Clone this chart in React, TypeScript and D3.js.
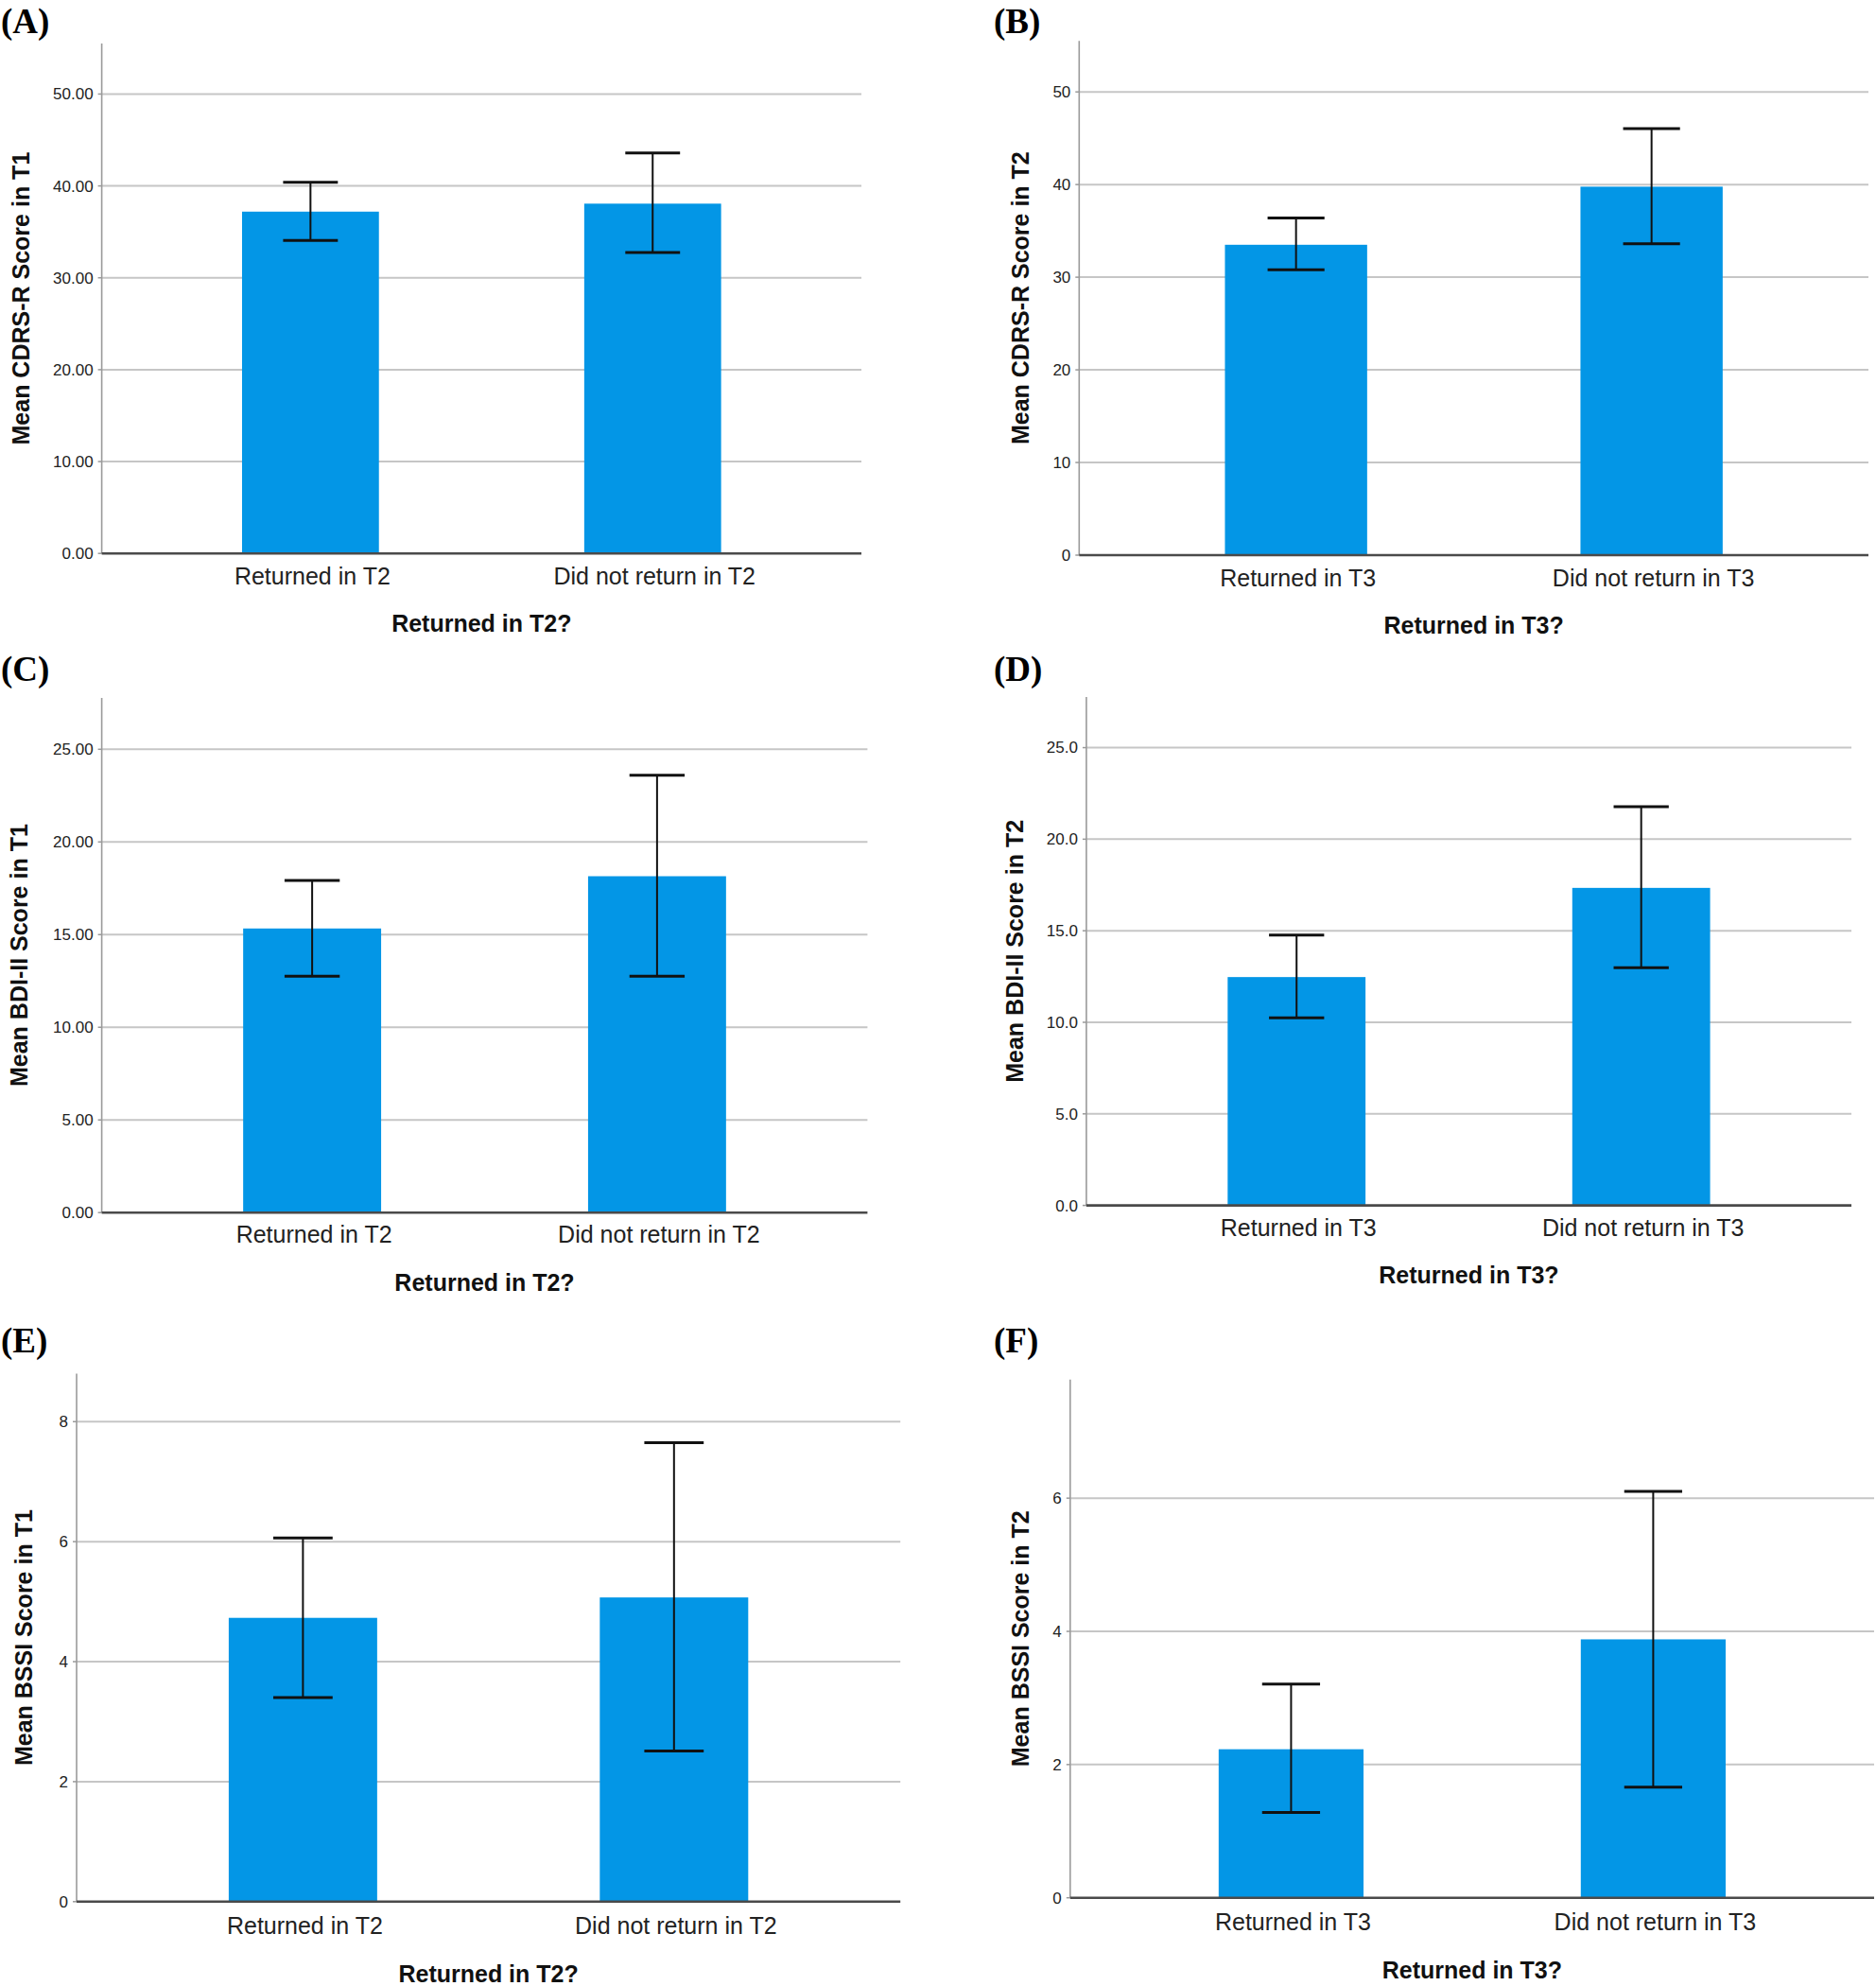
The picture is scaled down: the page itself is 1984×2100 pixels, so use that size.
import React from "react";
import * as d3 from "d3";

// ---------- data ----------
const categoriesT2 = ["Returned in T2", "Did not return in T2"];
const categoriesT3 = ["Returned in T3", "Did not return in T3"];

const cdrsT1Mean = [37.2, 38.07];
const cdrsT1Low = [34.07, 32.74];
const cdrsT1High = [40.4, 43.58];

const cdrsT2Mean = [33.5, 39.77];
const cdrsT2Low = [30.8, 33.6];
const cdrsT2High = [36.4, 46.05];

const bdiT1Mean = [15.33, 18.15];
const bdiT1Low = [12.76, 12.76];
const bdiT1High = [17.92, 23.6];

const bdiT2Mean = [12.47, 17.34];
const bdiT2Low = [10.24, 12.98];
const bdiT2High = [14.76, 21.77];

const bssiT1Mean = [4.73, 5.07];
const bssiT1Low = [3.4, 2.51];
const bssiT1High = [6.06, 7.65];

const bssiT2Mean = [2.23, 3.88];
const bssiT2Low = [1.28, 1.66];
const bssiT2High = [3.21, 6.1];

const ticksCdrs = [0, 10, 20, 30, 40, 50];
const ticksBdi = [0, 5, 10, 15, 20, 25];
const ticksBssiT1 = [0, 2, 4, 6, 8];
const ticksBssiT2 = [0, 2, 4, 6];

const panels = [
  {
    label: "(A)", cats: categoriesT2, mean: cdrsT1Mean, low: cdrsT1Low, high: cdrsT1High,
    ticks: ticksCdrs, fmt: ".2f", max: 55.5, yTitle: "Mean CDRS-R Score in T1", xTitle: "Returned in T2?",
    left: 107.6, right: 911, top: 46, bottom: 585.2, yTitleX: 22, lx: 1, ly: 35, labOff: 33, titleOff: 83,
  },
  {
    label: "(B)", cats: categoriesT3, mean: cdrsT2Mean, low: cdrsT2Low, high: cdrsT2High,
    ticks: ticksCdrs, fmt: "d", max: 55.5, yTitle: "Mean CDRS-R Score in T2", xTitle: "Returned in T3?",
    left: 1141.3, right: 1976, top: 43.3, bottom: 587, yTitleX: 1079.3, lx: 1051, ly: 35, labOff: 33, titleOff: 83,
  },
  {
    label: "(C)", cats: categoriesT2, mean: bdiT1Mean, low: bdiT1Low, high: bdiT1High,
    ticks: ticksBdi, fmt: ".2f", max: 27.77, yTitle: "Mean BDI-II Score in T1", xTitle: "Returned in T2?",
    left: 107.6, right: 917.4, top: 738, bottom: 1282.2, yTitleX: 20.2, lx: 1, ly: 720, labOff: 32, titleOff: 83,
  },
  {
    label: "(D)", cats: categoriesT3, mean: bdiT2Mean, low: bdiT2Low, high: bdiT2High,
    ticks: ticksBdi, fmt: ".1f", max: 27.76, yTitle: "Mean BDI-II Score in T2", xTitle: "Returned in T3?",
    left: 1148.9, right: 1958, top: 737.1, bottom: 1274.6, yTitleX: 1073, lx: 1051, ly: 720, labOff: 32, titleOff: 82,
  },
  {
    label: "(E)", cats: categoriesT2, mean: bssiT1Mean, low: bssiT1Low, high: bssiT1High,
    ticks: ticksBssiT1, fmt: "d", max: 8.8, yTitle: "Mean BSSI Score in T1", xTitle: "Returned in T2?",
    left: 81, right: 952.2, top: 1452.5, bottom: 2010.8, yTitleX: 25.3, lx: 1, ly: 1430, labOff: 34, titleOff: 85,
  },
  {
    label: "(F)", cats: categoriesT3, mean: bssiT2Mean, low: bssiT2Low, high: bssiT2High,
    ticks: ticksBssiT2, fmt: "d", max: 7.78, yTitle: "Mean BSSI Score in T2", xTitle: "Returned in T3?",
    left: 1131.8, right: 1982, top: 1458.8, bottom: 2006.7, yTitleX: 1079.3, lx: 1051, ly: 1430, labOff: 34, titleOff: 85,
  },
];

const BAR = "#0396E6";
const GRID = "#c6c6c6";
const SANS = "'Liberation Sans', Arial, sans-serif";

function Panel({ p }: { p: any }) {
  const x = d3.scaleBand<string>().domain(p.cats).range([p.left, p.right]).paddingInner(0.6).paddingOuter(0.41);
  const y = d3.scaleLinear().domain([0, p.max]).range([p.bottom, p.top]);
  const f = d3.format(p.fmt);
  const bw = x.bandwidth();
  const cap = bw * 0.2;
  const cx = (p.left + p.right) / 2;
  const cy = (p.top + p.bottom) / 2;
  return (
    <g>
      <text x={p.lx} y={p.ly} fontFamily="'Liberation Serif', 'Times New Roman', serif" fontWeight="bold" fontSize={37} fill="#000">
        {p.label}
      </text>
      {p.ticks.filter((t: number) => t > 0).map((t: number) => (
        <line key={"g" + t} x1={p.left} x2={p.right} y1={y(t)} y2={y(t)} stroke={GRID} strokeWidth={2} />
      ))}
      {p.ticks.map((t: number) => (
        <g key={"t" + t}>
          <line x1={p.left - 4} x2={p.left} y1={y(t)} y2={y(t)} stroke="#999" strokeWidth={1.5} />
          <text x={p.left - 9} y={y(t)} dy="0.35em" textAnchor="end" fontFamily={SANS} fontSize={17} fill="#222">
            {f(t)}
          </text>
        </g>
      ))}
      {p.cats.map((c: string, i: number) => (
        <rect key={"b" + c} x={x(c)} y={y(p.mean[i])} width={bw} height={p.bottom - y(p.mean[i])} fill={BAR} />
      ))}
      <line x1={p.left} x2={p.left} y1={p.top} y2={p.bottom} stroke="#9a9a9a" strokeWidth={1.6} />
      <line x1={p.left} x2={p.right} y1={p.bottom} y2={p.bottom} stroke="#4a4a4a" strokeWidth={2.6} />
      {p.cats.map((c: string, i: number) => {
        const mx = (x(c) as number) + bw / 2;
        return (
          <g key={"e" + c}>
            <line x1={mx} x2={mx} y1={y(p.high[i])} y2={y(p.low[i])} stroke="#111" strokeWidth={2} />
            <line x1={mx - cap} x2={mx + cap} y1={y(p.high[i])} y2={y(p.high[i])} stroke="#111" strokeWidth={3} />
            <line x1={mx - cap} x2={mx + cap} y1={y(p.low[i])} y2={y(p.low[i])} stroke="#111" strokeWidth={3} />
          </g>
        );
      })}
      {p.cats.map((c: string) => (
        <text key={"l" + c} x={(x(c) as number) + bw / 2 + 2} y={p.bottom + p.labOff} textAnchor="middle" fontFamily={SANS} fontSize={25} fill="#222">
          {c}
        </text>
      ))}
      <text x={cx} y={p.bottom + p.titleOff} textAnchor="middle" fontFamily={SANS} fontWeight="bold" fontSize={25} fill="#111">
        {p.xTitle}
      </text>
      <text
        transform={`translate(${p.yTitleX},${cy}) rotate(-90)`}
        textAnchor="middle"
        dy="0.35em"
        fontFamily={SANS}
        fontWeight="bold"
        fontSize={25}
        fill="#111"
      >
        {p.yTitle}
      </text>
    </g>
  );
}

export default function App() {
  return (
    <svg
      width={1984}
      height={2100}
      style={{ position: "absolute", left: 0, top: 0, background: "#fff" }}
      xmlns="http://www.w3.org/2000/svg"
    >
      <rect x={0} y={0} width={1984} height={2100} fill="#fff" />
      {panels.map((p) => (
        <Panel key={p.label} p={p} />
      ))}
    </svg>
  );
}
